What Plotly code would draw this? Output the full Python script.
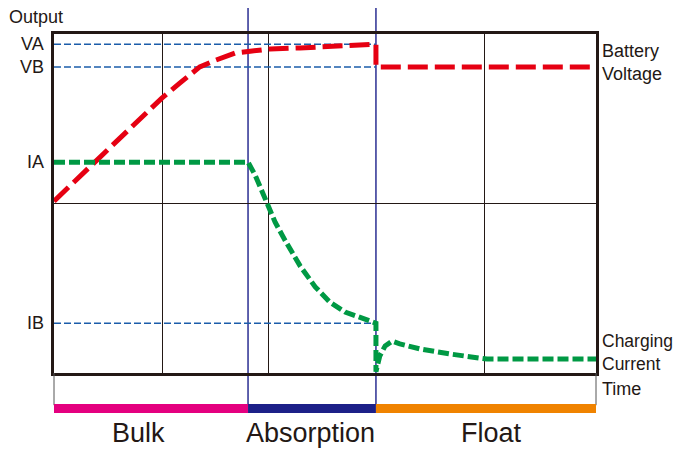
import plotly.graph_objects as go

# ---- data (time axis 0..100, output axis 0..100) ----
phase_names = ["Bulk", "Absorption", "Float"]
phase_edges = [0, 35.8, 59.4, 100]
phase_label_x = [15.5, 47.4, 80.8]
phase_colors = ["#E4007F", "#1D2088", "#F08300"]

level_names = ["VA", "VB", "IA", "IB"]
level_values = [97.0, 90.3, 62.2, 14.7]

volt_t = [0, 10.0, 17.7, 19.9, 23.2, 26.9, 29.7, 33.4, 36.2, 39.9, 45.4, 52.8, 59.0, 59.4, 59.4, 100]
volt_v = [50.7, 65.8, 77.8, 81.1, 85.5, 90.3, 92.2, 94.4, 94.9, 95.6, 95.9, 96.5, 96.9, 97.0, 90.3, 90.3]

curr_t = [0, 35.8, 37.1, 38.4, 39.5, 40.8, 42.6, 45.4, 48.2, 50.9, 53.7, 56.5, 59.4, 59.4,
          60.1, 61.1, 62.4, 63.8, 67.5, 73.1, 79.9, 100]
curr_v = [62.2, 62.2, 58.4, 53.4, 49.6, 44.5, 39.2, 31.6, 25.4, 20.9, 18.0, 16.2, 14.7, 0.4,
          5.0, 8.0, 9.4, 8.6, 7.1, 5.6, 4.1, 4.1]

grid_x = [20, 39.5, 79.5]
grid_y = [50]

INK = "#231815"
FONT = "Liberation Sans, Arial, sans-serif"

fig = go.Figure()

# reference level dashed lines
for name, val in zip(level_names, level_values):
    if name == "IA":
        continue
    fig.add_trace(go.Scatter(x=[0, phase_edges[2]], y=[val, val], mode="lines",
                             line=dict(color="#1B5DAA", width=1.5, dash="7px,3px"),
                             hoverinfo="skip", showlegend=False))

fig.add_trace(go.Scatter(x=volt_t, y=volt_v, mode="lines", name="Battery Voltage",
                         line=dict(color="#E60012", width=5, dash="20px,7px"),
                         showlegend=False))
fig.add_trace(go.Scatter(x=curr_t, y=curr_v, mode="lines", name="Charging Current",
                         line=dict(color="#009944", width=5, dash="11px,4px"),
                         showlegend=False))

shapes = []
# phase boundary lines (navy), extending above and below the plot
for xe in phase_edges[1:3]:
    shapes.append(dict(type="line", xref="paper", yref="paper", x0=xe / 100, x1=xe / 100,
                       y0=1.0855, y1=-0.095, line=dict(color="#2B2E92", width=1.5), layer="below"))
# thin edge lines below the plot
for xe in [0, 1]:
    shapes.append(dict(type="line", xref="paper", yref="paper", x0=xe, x1=xe,
                       y0=0, y1=-0.095, line=dict(color="#555555", width=1)))
# phase bars
for i in range(3):
    shapes.append(dict(type="rect", xref="paper", yref="paper",
                       x0=phase_edges[i] / 100, x1=phase_edges[i + 1] / 100,
                       y0=-0.118, y1=-0.0915, fillcolor=phase_colors[i], line=dict(width=0)))

annotations = []
annotations.append(dict(text="Output", xref="paper", yref="paper", x=-0.087, y=1.05,
                        xanchor="left", yanchor="middle", showarrow=False,
                        font=dict(size=18, color=INK, family=FONT)))
for name, val in zip(level_names, level_values):
    annotations.append(dict(text=name, xref="paper", yref="y", x=-0.014, y=val,
                            xanchor="right", yanchor="middle", showarrow=False,
                            font=dict(size=18, color=INK, family=FONT)))
annotations.append(dict(text="Battery<br>Voltage", xref="paper", yref="paper", x=1.008, y=0.917,
                        xanchor="left", yanchor="middle", showarrow=False, align="left",
                        font=dict(size=18, color=INK, family=FONT)))
annotations.append(dict(text="Charging<br>Current", xref="paper", yref="paper", x=1.008, y=0.059,
                        xanchor="left", yanchor="middle", showarrow=False, align="left",
                        font=dict(size=17.5, color=INK, family=FONT)))
annotations.append(dict(text="Time", xref="paper", yref="paper", x=1.008, y=-0.048,
                        xanchor="left", yanchor="middle", showarrow=False,
                        font=dict(size=18, color=INK, family=FONT)))
for i, nm in enumerate(phase_names):
    annotations.append(dict(text=nm, xref="paper", yref="paper",
                            x=phase_label_x[i] / 100, y=-0.177,
                            xanchor="center", yanchor="middle", showarrow=False,
                            font=dict(size=27, color=INK, family=FONT)))

# page body has an 8px margin, so the figure is shrunk by 8px and margins shifted
fig.update_layout(
    width=675, height=442,
    margin=dict(l=46, r=87, t=26, b=77),
    paper_bgcolor="white", plot_bgcolor="white",
    shapes=shapes, annotations=annotations,
    xaxis=dict(range=[0, 100], tickvals=grid_x, showticklabels=False, ticks="",
               showgrid=True, gridcolor=INK, gridwidth=1, zeroline=False,
               showline=True, mirror=True, linecolor=INK, linewidth=2.5, fixedrange=True),
    yaxis=dict(range=[0, 100], tickvals=grid_y, showticklabels=False, ticks="",
               showgrid=True, gridcolor=INK, gridwidth=1, zeroline=False,
               showline=True, mirror=True, linecolor=INK, linewidth=2.5, fixedrange=True),
)

fig.write_html("out.html")
